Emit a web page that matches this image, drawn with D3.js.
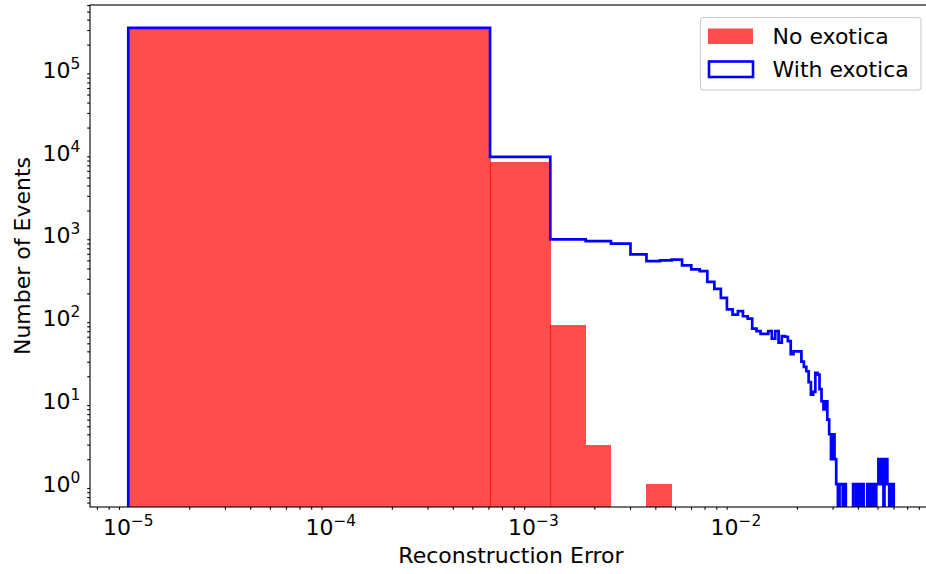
<!DOCTYPE html>
<html>
<head>
<meta charset="utf-8">
<script src="https://cdn.jsdelivr.net/npm/d3@7"></script>
<style>
  body { margin: 0; background: #fff; }
  svg { display: block; font-family: "DejaVu Sans", sans-serif; }
</style>
</head>
<body>
<div id="chart"></div>
<script>
// 100 equal-width bins between the smallest and the largest reconstruction error
const binLow = 1e-5;
const binHigh = 0.06011;
const binCount = 100;

// counts per bin (bins without an entry are empty)
const noExotica = [315000, 7700, 84, 3, 0, 0, 1, 1];
const withExotica = [
  319000, 8870, 897, 856, 796, 591, 490, 500, 510, 435,
  389, 371, 276, 227, 177, 128, 111, 122, 106, 99,
  75, 70, 65, 65, 70, 57, 70, 51, 61, 60,
  53, 37, 40, 40, 40, 30, 26, 23, 17, 12,
  13, 22, 21, 14, 10, 8, 10, 6, 4, 2,
  4, 2, 1, 0, 1, 1, 0, 1, 0, 0,
  0, 0, 0, 1, 1, 0, 1, 1, 0, 1,
  1, 0, 0, 0, 1, 0, 1, 0, 0, 1,
  1, 0, 1, 1, 2, 1, 2, 2, 1, 0,
  2, 1, 2, 1, 1, 0, 1, 1, 0, 1
];

const seriesNames = ["No exotica", "With exotica"];
const xTickExps = [-5, -4, -3, -2];
const yTickExps = [0, 1, 2, 3, 4, 5];

drawHistogram();

function drawHistogram() {
    const width = 926, height = 574;
    const margin = {top: 5, left: 90};
    const innerWidth = 842, innerHeight = 502;

    const svg = d3.select("#chart").append("svg")
        .attr("width", width)
        .attr("height", height);

    const g = svg.append("g").attr("transform", `translate(${margin.left},${margin.top})`);

    g.append("clipPath").attr("id", "plot-clip")
        .append("rect")
        .attr("width", innerWidth)
        .attr("height", innerHeight);

    const edges = d3.range(binCount + 1).map(k => binLow + k * (binHigh - binLow) / binCount);

    // log axes with 5% margins, the way matplotlib autoscales
    const xSpan = Math.log10(binHigh / binLow);
    const xScale = d3.scaleLog()
        .domain([binLow / 10 ** (0.05 * xSpan), binHigh * 10 ** (0.05 * xSpan)])
        .range([0, innerWidth]);

    const yMax = d3.max(withExotica), yMin = 1;
    const ySpan = Math.log10(yMax / yMin);
    const yScale = d3.scaleLog()
        .domain([yMin / 10 ** (0.05 * ySpan), yMax * 10 ** (0.05 * ySpan)])
        .range([innerHeight, 0]);

    const plot = g.append("g").attr("clip-path", "url(#plot-clip)");

    // red filled bars; the big ones overlap by a pixel, giving the darker seam
    const redBins = noExotica
        .map((c, i) => ({c: c, x0: edges[i], x1: edges[i + 1], next: noExotica[i + 1] || 0}))
        .filter(d => d.c > 0);

    plot.selectAll(".bar")
        .data(redBins)
        .enter().append("rect")
        .attr("class", "bar")
        .attr("x", d => Math.round(xScale(d.x0)))
        .attr("width", d => Math.round(xScale(d.x1)) - Math.round(xScale(d.x0)) + (d.next >= 10 ? 1 : 0))
        .attr("y", d => Math.round(yScale(d.c)))
        .attr("height", d => innerHeight + 5 - Math.round(yScale(d.c)))
        .attr("fill", "red")
        .attr("fill-opacity", 0.7);

    // blue step outline
    const yOf = c => c > 0 ? yScale(c) : innerHeight + 20;
    const pts = [[xScale(edges[0]), innerHeight + 20]];
    withExotica.forEach((c, i) => {
        pts.push([xScale(edges[i]), yOf(c)]);
        pts.push([xScale(edges[i + 1]), yOf(c)]);
    });
    pts.push([xScale(edges[binCount]), innerHeight + 20]);

    plot.append("path")
        .attr("d", d3.line()(pts))
        .attr("fill", "none")
        .attr("stroke", "blue")
        .attr("stroke-width", 2.7)
        .attr("stroke-linejoin", "miter");

    // minor ticks
    function minorValues(scale) {
        const [lo, hi] = scale.domain();
        const out = [];
        for (let e = Math.floor(Math.log10(lo)); e <= Math.ceil(Math.log10(hi)); e++) {
            for (let m = 2; m <= 9; m++) {
                const v = m * 10 ** e;
                if (v >= lo && v <= hi) out.push(v);
            }
        }
        return out;
    }

    const xAxisG = g.append("g").attr("transform", `translate(0,${innerHeight})`);
    xAxisG.call(d3.axisBottom(xScale).tickValues(xTickExps.map(e => 10 ** e)).tickSize(4.9).tickFormat(""));
    xAxisG.call(d3.axisBottom(xScale).tickValues(minorValues(xScale)).tickSize(2.8).tickFormat(""));

    const yAxisG = g.append("g");
    yAxisG.call(d3.axisLeft(yScale).tickValues(yTickExps.map(e => 10 ** e)).tickSize(4.9).tickFormat(""));
    yAxisG.call(d3.axisLeft(yScale).tickValues(minorValues(yScale)).tickSize(2.8).tickFormat(""));

    g.selectAll(".domain").remove();
    g.selectAll(".tick line").attr("stroke", "#000").attr("stroke-width", 1.1);

    // spines (the right one falls outside the picture)
    g.append("rect")
        .attr("width", innerWidth)
        .attr("height", innerHeight)
        .attr("fill", "none")
        .attr("stroke", "#000")
        .attr("stroke-width", 1.1);

    // tick labels as 10^n
    xTickExps.forEach(e => {
        const t = g.append("text")
            .attr("x", xScale(10 ** e))
            .attr("y", innerHeight + 28)
            .attr("text-anchor", "middle")
            .attr("fill", "#000");
        t.append("tspan").attr("font-size", "22px").text("10");
        t.append("tspan").attr("font-size", "15.4px").attr("dy", -9).text("\u2212" + Math.abs(e));
    });

    yTickExps.forEach(e => {
        const t = g.append("text")
            .attr("x", -9.8)
            .attr("y", yScale(10 ** e) + 8)
            .attr("text-anchor", "end")
            .attr("fill", "#000");
        t.append("tspan").attr("font-size", "22px").text("10");
        t.append("tspan").attr("font-size", "15.4px").attr("dy", -9).text(e);
    });

    // axis titles
    g.append("text")
        .attr("x", innerWidth / 2)
        .attr("y", innerHeight + 56)
        .attr("text-anchor", "middle")
        .attr("font-size", "22px")
        .text("Reconstruction Error");

    g.append("text")
        .attr("transform", "rotate(-90)")
        .attr("x", -innerHeight / 2)
        .attr("y", -60)
        .attr("text-anchor", "middle")
        .attr("font-size", "22px")
        .text("Number of Events");

    // legend
    const legend = svg.append("g").attr("transform", "translate(700.5,17.5)");
    legend.append("rect")
        .attr("width", 220.5)
        .attr("height", 72.5)
        .attr("rx", 3)
        .attr("fill", "#fff")
        .attr("fill-opacity", 0.8)
        .attr("stroke", "#cccccc")
        .attr("stroke-width", 1.1);

    legend.append("rect")
        .attr("x", 7.5).attr("y", 11)
        .attr("width", 45).attr("height", 15.5)
        .attr("fill", "red").attr("fill-opacity", 0.7);

    legend.append("rect")
        .attr("x", 8.5).attr("y", 44)
        .attr("width", 44).attr("height", 15.5)
        .attr("fill", "none")
        .attr("stroke", "blue")
        .attr("stroke-width", 2.6);

    legend.selectAll(".legend-text")
        .data(seriesNames)
        .enter().append("text")
        .attr("class", "legend-text")
        .attr("x", 72)
        .attr("y", (d, i) => 26.5 + i * 32.5)
        .attr("font-size", "22px")
        .attr("fill", "#000")
        .text(d => d);
}
</script>
</body>
</html>
